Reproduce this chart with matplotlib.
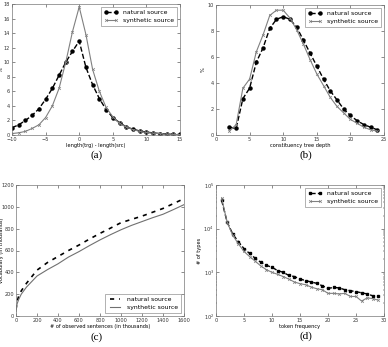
import matplotlib
matplotlib.use("Agg")
import matplotlib.pyplot as plt
import numpy as np

# Panel (a)
a_x = list(range(-10, 16))
a_nat = [1.0, 1.4, 2.0, 2.7, 3.6, 4.9, 6.4, 8.2, 10.0, 11.5, 12.9, 9.3, 6.9, 5.0, 3.5, 2.4,
         1.7, 1.1, 0.8, 0.55, 0.4, 0.28, 0.2, 0.14, 0.1, 0.07]
a_syn = [0.2, 0.3, 0.5, 0.9, 1.4, 2.4, 4.0, 6.4, 10.0, 14.2, 17.6, 13.8, 9.0, 6.0, 3.8, 2.5,
         1.6, 1.1, 0.75, 0.5, 0.35, 0.25, 0.18, 0.12, 0.08, 0.05]

# Panel (b)
b_x = list(range(2, 25))
b_nat = [0.6, 0.5, 2.8, 3.6, 5.6, 6.7, 8.2, 8.9, 9.1, 8.9, 8.3, 7.3, 6.3, 5.3, 4.3, 3.4,
         2.7, 2.0, 1.5, 1.1, 0.8, 0.6, 0.4]
b_syn = [0.3, 0.8, 3.6, 4.3, 6.4, 7.7, 9.2, 9.6, 9.6, 9.0, 8.1, 7.0, 5.8, 4.7, 3.8, 2.9,
         2.2, 1.7, 1.2, 0.9, 0.6, 0.4, 0.3]

# Panel (c)
c_x = [0, 10, 25, 50, 100, 200, 300, 400, 500, 600, 700, 800, 900, 1000, 1100, 1200,
       1300, 1400, 1500, 1600]
c_nat = [60, 130, 180, 230, 300, 420, 490, 545, 600, 650, 705, 757, 805, 855, 885, 915,
         950, 985, 1030, 1075]
c_syn = [40, 110, 150, 200, 265, 366, 425, 478, 540, 590, 645, 697, 745, 790, 830, 865,
         900, 932, 975, 1020]

# Panel (d)
d_x = list(range(1, 30))
d_nat = [45000, 14000, 7500, 5000, 3500, 2700, 2100, 1700, 1450, 1300, 1100, 1000, 850,
         800, 700, 650, 600, 560, 490, 430, 450, 440, 400, 380, 360, 340, 320, 290, 290]
d_syn = [50000, 14000, 7000, 4500, 3000, 2300, 1800, 1400, 1150, 1000, 900, 800, 700,
         600, 550, 520, 460, 420, 400, 330, 330, 320, 330, 280, 280, 220, 260, 250, 230]

labels = ["natural source", "synthetic source"]
captions = ["(a)", "(b)", "(c)", "(d)"]

fig = plt.figure(figsize=(3.88, 3.47), dpi=100)
W, H = 388.0, 347.0
def ax_at(l, t, r, b):
    return fig.add_axes([l / W, 1 - b / H, (r - l) / W, (b - t) / H])

axA = ax_at(12, 4, 180, 135)
axB = ax_at(216, 5, 384, 135)
axC = ax_at(16, 185, 184, 316)
axD = ax_at(216, 185, 384, 316)

fs = 3.6
nat_kw = dict(color="black", ls="--", lw=1.0, marker="o", ms=2.2)
syn_kw = dict(color="#808080", ls="-", lw=0.8, marker="x", ms=2.0, mew=0.5)
leg_kw = dict(fontsize=4.4, frameon=True, fancybox=False, edgecolor="#777777",
              borderpad=0.5, handlelength=2.2, labelspacing=0.4, numpoints=2)

for ax in (axA, axB, axC, axD):
    ax.tick_params(direction="in", labelsize=fs, length=2, width=0.4, pad=1.5,
                   top=True, right=True, colors="#333333")
    for s in ax.spines.values():
        s.set_linewidth(0.5)
        s.set_color("#777777")

axA.plot(a_x, a_nat, label=labels[0], **nat_kw)
axA.plot(a_x, a_syn, label=labels[1], **syn_kw)
axA.set_xlim(-10, 15); axA.set_ylim(0, 18)
axA.set_yticks(range(0, 19, 2)); axA.set_xticks([-10, -5, 0, 5, 10, 15])
axA.set_xlabel("length(trg) - length(src)", fontsize=fs, labelpad=1)
axA.set_ylabel("%", fontsize=fs)
axA.yaxis.set_label_coords(-8 / 168, 0.5)
axA.legend(loc="upper right", **leg_kw).get_frame().set_linewidth(0.5)

axB.plot(b_x, b_nat, label=labels[0], **nat_kw)
axB.plot(b_x, b_syn, label=labels[1], **syn_kw)
axB.set_xlim(0, 25); axB.set_ylim(0, 10)
axB.set_xticks(range(0, 26, 5)); axB.set_yticks(range(0, 11, 2))
axB.set_xlabel("constituency tree depth", fontsize=fs, labelpad=1)
axB.set_ylabel("%", fontsize=fs, labelpad=1)
axB.legend(loc="upper right", **leg_kw).get_frame().set_linewidth(0.5)

axC.plot(c_x, c_nat, color="black", ls=(0, (2.5, 3)), lw=1.2, label=labels[0])
axC.plot(c_x, c_syn, color="#707070", ls="-", lw=0.8, label=labels[1])
axC.set_xlim(0, 1600); axC.set_ylim(0, 1200)
axC.set_xticks(range(0, 1601, 200)); axC.set_yticks(range(0, 1201, 200))
axC.set_xlabel("# of observed sentences (in thousands)", fontsize=fs, labelpad=1)
axC.set_ylabel("vocabulary (in thousands)", fontsize=fs)
axC.yaxis.set_label_coords(-11.5 / 168, 0.5)
axC.legend(loc="lower right", **leg_kw).get_frame().set_linewidth(0.5)

axD.plot(d_x, d_nat, label=labels[0], color="black", ls="--", lw=1.0, marker="s", ms=2.0)
axD.plot(d_x, d_syn, label=labels[1], **syn_kw)
axD.set_yscale("log")
axD.set_xlim(0, 30); axD.set_ylim(100, 100000)
axD.set_xticks(range(0, 31, 5))
axD.tick_params(which="minor", length=1, width=0.3, direction="in", right=True)
axD.set_xlabel("token frequency", fontsize=fs, labelpad=1)
axD.set_ylabel("# of types", fontsize=fs, labelpad=1)
axD.legend(loc="upper right", **leg_kw).get_frame().set_linewidth(0.5)

cap_kw = dict(fontsize=8, family="Liberation Serif", ha="center", va="center")
fig.text(97 / W, 1 - 155 / H, captions[0], **cap_kw)
fig.text(306 / W, 1 - 155 / H, captions[1], **cap_kw)
fig.text(97 / W, 1 - 337 / H, captions[2], **cap_kw)
fig.text(306 / W, 1 - 336 / H, captions[3], **cap_kw)

fig.savefig("out.png", dpi=100)
